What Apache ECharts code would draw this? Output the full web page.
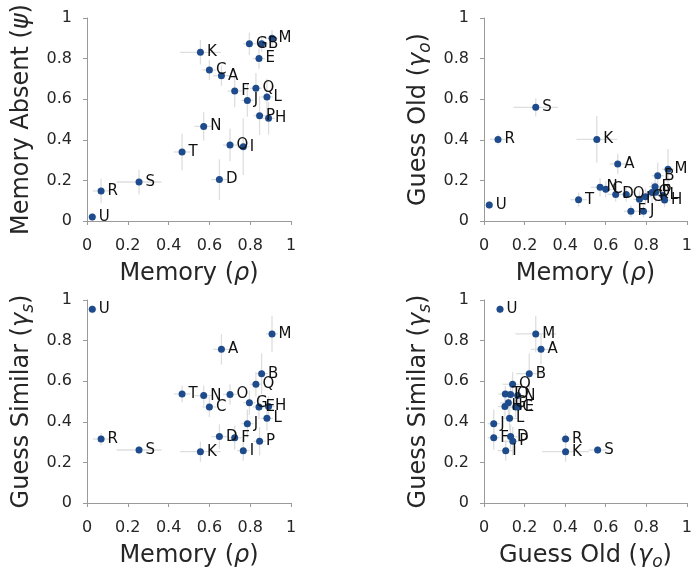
<!DOCTYPE html>
<html>
<head>
<meta charset="utf-8">
<script src="https://cdn.jsdelivr.net/npm/echarts@6/dist/echarts.min.js"></script>
<style>
html,body{margin:0;padding:0;background:#fff;}
#chart{width:695px;height:575px;}
</style>
</head>
<body>
<div id="chart"></div>
<script>
// ---- data (one entry per subject) ----
const subjects = ['A','B','C','D','E','F','G','H','I','J','K','L','M','N','O','P','Q','R','S','T','U'];
const memory       = [0.659,0.856,0.600,0.649,0.843,0.724,0.796,0.890,0.766,0.786,0.556,0.882,0.907,0.572,0.701,0.846,0.828,0.069,0.255,0.466,0.026];
const memoryAbsent = [0.716,0.873,0.744,0.204,0.800,0.640,0.873,0.506,0.366,0.594,0.831,0.611,0.900,0.466,0.374,0.519,0.654,0.148,0.192,0.340,0.020];
const guessOld     = [0.281,0.223,0.156,0.131,0.169,0.048,0.120,0.103,0.107,0.048,0.402,0.126,0.255,0.166,0.131,0.142,0.141,0.402,0.560,0.105,0.079];
const guessSimilar = [0.757,0.637,0.473,0.327,0.473,0.322,0.494,0.475,0.258,0.391,0.253,0.417,0.833,0.529,0.535,0.304,0.585,0.315,0.261,0.537,0.954];
// error-bar half widths
const memoryErr       = [0.040,0.030,0.035,0.040,0.030,0.035,0.030,0.030,0.030,0.030,0.100,0.030,0.030,0.045,0.035,0.030,0.030,0.040,0.110,0.040,0.020];
const memoryAbsentErr = [0.050,0.040,0.050,0.100,0.050,0.080,0.055,0.080,0.140,0.080,0.060,0.090,0.040,0.070,0.080,0.095,0.075,0.060,0.060,0.090,0.020];
const guessOldErr     = [0.050,0.065,0.040,0.035,0.050,0.030,0.040,0.035,0.040,0.030,0.115,0.040,0.100,0.045,0.035,0.050,0.050,0.025,0.045,0.035,0.020];
const guessSimilarErr = [0.075,0.100,0.050,0.060,0.060,0.060,0.060,0.050,0.050,0.070,0.050,0.060,0.090,0.050,0.050,0.070,0.060,0.030,0.020,0.040,0.020];
const ticks = [0, 0.2, 0.4, 0.6, 0.8, 1];

const FONT = 'DejaVu Sans';
const DOT = '#1e4b8c';
const AXIS = '#9a9a9a';
const TXT = '#262626';

const richName = {
  t: {fontFamily: FONT, fontSize: 24, color: TXT, lineHeight: 30},
  i: {fontFamily: FONT, fontSize: 24, fontStyle: 'italic', color: TXT, lineHeight: 30},
  sub: {fontFamily: FONT, fontSize: 17, fontStyle: 'italic', color: TXT, lineHeight: 16, verticalAlign: 'bottom'}
};

const panels = [
  {x: memory, xe: memoryErr, y: memoryAbsent, ye: memoryAbsentErr,
   xn: '{t|Memory (}{i|ρ}{t|)}', yn: '{t|Memory Absent (}{i|ψ}{t|)}', left: 87, top: 18},
  {x: memory, xe: memoryErr, y: guessOld, ye: guessOldErr,
   xn: '{t|Memory (}{i|ρ}{t|)}', yn: '{t|Guess Old (}{i|γ}{sub|o}{t|)}', left: 484, top: 18},
  {x: memory, xe: memoryErr, y: guessSimilar, ye: guessSimilarErr,
   xn: '{t|Memory (}{i|ρ}{t|)}', yn: '{t|Guess Similar (}{i|γ}{sub|s}{t|)}', left: 87, top: 300},
  {x: guessOld, xe: guessOldErr, y: guessSimilar, ye: guessSimilarErr,
   xn: '{t|Guess Old (}{i|γ}{sub|o}{t|)}', yn: '{t|Guess Similar (}{i|γ}{sub|s}{t|)}', left: 484, top: 300}
];

const grid = [], xAxis = [], yAxis = [], series = [];
panels.forEach((p, k) => {
  grid.push({left: p.left, top: p.top, width: 204, height: 203, containLabel: false});
  const common = {
    min: 0, max: 1, interval: 0.2, gridIndex: k,
    axisLine: {show: true, lineStyle: {color: AXIS, width: 1}},
    axisTick: {show: true, inside: false, length: 4, lineStyle: {color: AXIS}},
    splitLine: {show: false},
    axisLabel: {fontFamily: FONT, fontSize: 16, color: TXT, margin: 7,
      formatter: v => { const t = ticks.find(q => Math.abs(q - v) < 1e-9); return t === undefined ? '' : String(t); }},
    nameLocation: 'middle',
    nameTextStyle: {rich: richName}
  };
  xAxis.push(Object.assign({}, common, {type: 'value', position: 'bottom', offset: 10,
    name: p.xn, nameGap: 28}));
  yAxis.push(Object.assign({}, common, {type: 'value', position: 'left', offset: 8,
    name: p.yn, nameGap: 42}));
  const errData = subjects.map((s, i) => [p.x[i], p.y[i], p.xe[i], p.ye[i]]);
  series.push({
    type: 'custom', xAxisIndex: k, yAxisIndex: k, silent: true, z: 1,
    encode: {x: 0, y: 1},
    data: errData,
    renderItem: (params, api) => {
      const x = api.value(0), y = api.value(1), ex = api.value(2), ey = api.value(3);
      const h0 = api.coord([x - ex, y]), h1 = api.coord([x + ex, y]);
      const v0 = api.coord([x, y - ey]), v1 = api.coord([x, y + ey]);
      const st = {stroke: '#dedede', lineWidth: 1.3};
      return {type: 'group', children: [
        {type: 'line', shape: {x1: h0[0], y1: h0[1], x2: h1[0], y2: h1[1]}, style: st},
        {type: 'line', shape: {x1: v0[0], y1: v0[1], x2: v1[0], y2: v1[1]}, style: st}
      ]};
    }
  });
  series.push({
    type: 'scatter', xAxisIndex: k, yAxisIndex: k, z: 3,
    symbolSize: 7, itemStyle: {color: DOT, opacity: 1},
    data: subjects.map((s, i) => [p.x[i], p.y[i], s]),
    label: {show: true, position: 'right', distance: 3, formatter: d => d.value[2],
      fontFamily: FONT, fontSize: 15, color: '#111'},
    labelLayout: {hideOverlap: false}
  });
});

const chart = echarts.init(document.getElementById('chart'), null, {renderer: 'canvas'});
chart.setOption({animation: false, backgroundColor: '#fff', grid, xAxis, yAxis, series});
</script>
</body>
</html>
